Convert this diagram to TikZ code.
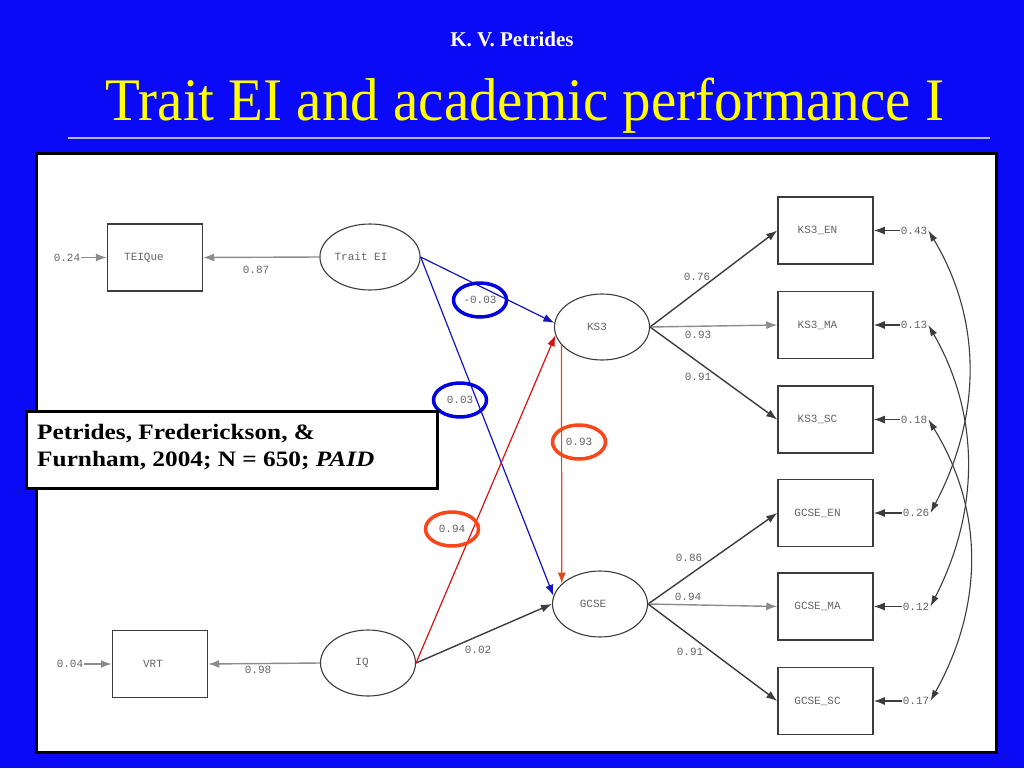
\documentclass[tikz,border=0pt]{standalone}
\usepackage{fontspec}
\setmainfont{Liberation Serif}
\setmonofont{Liberation Mono}
\usetikzlibrary{arrows.meta,shapes.geometric}
\definecolor{slideblue}{RGB}{10,10,246}
\definecolor{semgray}{RGB}{60,60,60}
\definecolor{lightpath}{RGB}{140,140,140}
\definecolor{lblgray}{RGB}{100,100,100}
\definecolor{pathblue}{RGB}{20,20,190}
\definecolor{pathred}{RGB}{215,20,20}
\definecolor{pathorange}{RGB}{225,75,35}
\definecolor{hlblue}{RGB}{0,0,225}
\definecolor{hlred}{RGB}{250,70,25}
\definecolor{titleyellow}{RGB}{255,255,0}
\begin{document}
\begin{tikzpicture}[x=1pt,y=-1pt,
  semfont/.style={font=\ttfamily\fontsize{11}{13}\selectfont},
  obsbox/.style={draw=semgray, line width=1.5pt, fill=white, minimum width=95pt, minimum height=67pt, inner sep=0pt, semfont, text=lblgray},
  latent/.style={ellipse, draw=semgray, line width=1.1pt, minimum width=95pt, minimum height=66pt, inner sep=0pt, semfont, text=lblgray},
  num/.style={semfont, text=lblgray, inner sep=1pt},
  semarrow/.style={-{Latex[length=11pt,width=8pt]}, draw=semgray, line width=1.4pt},
  bothways/.style={{Latex[length=11pt,width=7pt]}-{Latex[length=11pt,width=7pt]}, draw=semgray, line width=1.1pt},
  hlellipse/.style={ellipse, line width=3.5pt, minimum width=53pt, minimum height=34pt, inner sep=0pt, semfont, text=lblgray}
]
\fill[slideblue] (0,0) rectangle (1024,768);
\useasboundingbox (0,0) rectangle (1024,768);

% header
\node[text=white, font=\bfseries\fontsize{21}{25}\selectfont, anchor=base, inner sep=0pt] (author) at (512,46) {K. V. Petrides};
\node[text=titleyellow, font=\fontsize{57}{66}\selectfont, anchor=base, inner sep=0pt, yscale=1.06, transform shape] (title) at (525,120) {Trait EI and academic performance I};
\draw[draw=white!70!slideblue, line width=1.3pt] (68,138) -- (990,138);

% white panel
\draw[fill=white, draw=black, line width=3pt] (36,153) rectangle (996,752);

% observed and latent variables
\node[obsbox] (teique) at (155,257.5) {TEIQue\hspace*{22pt}};
\node[latent] (traitei) at (370,257) {Trait EI\hspace*{18pt}};
\node[latent] (ks3) at (602,327) {KS3\hspace*{10pt}};
\node[latent] (gcse) at (600,604) {GCSE\hspace*{14pt}};
\node[latent] (iq) at (368,663) {IQ\hspace*{12pt}};
\node[obsbox] (vrt) at (160,664) {VRT\hspace*{14pt}};

\node[obsbox] (ks3en) at (825.5,230.5) {KS3\_EN\hspace*{16pt}};
\node[obsbox] (ks3ma) at (825.5,325) {KS3\_MA\hspace*{16pt}};
\node[obsbox] (ks3sc) at (825.5,419.5) {KS3\_SC\hspace*{16pt}};
\node[obsbox] (gcseen) at (825.5,513) {GCSE\_EN\hspace*{16pt}};
\node[obsbox] (gcsema) at (825.5,606.5) {GCSE\_MA\hspace*{16pt}};
\node[obsbox] (gcsesc) at (825.5,701) {GCSE\_SC\hspace*{16pt}};

% error terms
\node[num] (eteique) at (67,257.5) {0.24};
\node[num] (evrt) at (70,664) {0.04};
\node[num] (e1) at (914,230.5) {0.43};
\node[num] (e2) at (914,325) {0.13};
\node[num] (e3) at (914,419.5) {0.18};
\node[num] (e4) at (916,513) {0.26};
\node[num] (e5) at (916,606.5) {0.12};
\node[num] (e6) at (916,701) {0.17};

\draw[semarrow, draw=lightpath] (eteique.east) -- (teique.west);
\draw[semarrow, draw=lightpath] (evrt.east) -- (vrt.west);
\draw[semarrow] (e1.west) -- (ks3en.east);
\draw[semarrow] (e2.west) -- (ks3ma.east);
\draw[semarrow] (e3.west) -- (ks3sc.east);
\draw[semarrow] (e4.west) -- (gcseen.east);
\draw[semarrow] (e5.west) -- (gcsema.east);
\draw[semarrow] (e6.west) -- (gcsesc.east);

% measurement paths
\draw[semarrow, draw=lightpath] (traitei.west) -- (teique.east);
\node[num] (l087) at (256,270) {0.87};
\draw[semarrow, draw=lightpath] (iq.west) -- (vrt.east);
\node[num] (l098) at (258,670) {0.98};

\draw[semarrow] (ks3.east) -- (ks3en.west);
\draw[semarrow, draw=lightpath] (ks3.east) -- (ks3ma.west);
\draw[semarrow] (ks3.east) -- (ks3sc.west);
\node[num] (l076) at (697,277) {0.76};
\node[num] (l093a) at (698,335) {0.93};
\node[num] (l091a) at (698,377) {0.91};

\draw[semarrow] (gcse.east) -- (gcseen.west);
\draw[semarrow, draw=lightpath] (gcse.east) -- (gcsema.west);
\draw[semarrow] (gcse.east) -- (gcsesc.west);
\node[num] (l086) at (689,558) {0.86};
\node[num] (l094a) at (688,597) {0.94};
\node[num] (l091b) at (690,652) {0.91};

% structural paths
\draw[semarrow] (iq.east) -- (gcse.west);
\node[num] (l002) at (478,650) {0.02};
\draw[semarrow, line width=1.2pt, draw=pathblue] (traitei.east) -- (ks3.175);
\draw[semarrow, line width=1.2pt, draw=pathblue] (traitei.east) -- (gcse.170);
\draw[semarrow, line width=1.2pt, draw=pathred] (iq.east) -- (ks3.190);
\draw[semarrow, line width=1.2pt, draw=pathorange] (ks3.204) -- (gcse.152);

% highlighted coefficients
\node[hlellipse, draw=hlblue] (hm003) at (480,300) {-0.03};
\node[hlellipse, draw=hlblue] (h003) at (460,400) {0.03};
\node[hlellipse, draw=hlred] (h093) at (579,442) {0.93};
\node[hlellipse, draw=hlred] (h094) at (452,529) {0.94};

% correlated errors
\draw[bothways] (e1.east) .. controls (982,320) and (982,415) .. (e4.east);
\draw[bothways] (e2.east) .. controls (980,415) and (980,510) .. (e5.east);
\draw[bothways] (e3.east) .. controls (984,510) and (984,605) .. (e6.east);

% citation
\node[draw=black, line width=3pt, fill=white, anchor=north west, minimum width=411pt, minimum height=77pt, inner sep=0pt] (cite) at (25,410) {};
\node[anchor=base west, align=left, inner sep=0pt, font=\bfseries\fontsize{22}{27}\selectfont, xscale=1.15, transform shape] (citetext) at (37,466) {Petrides, Frederickson, \&\\Furnham, 2004; N = 650; \textit{PAID}};
\end{tikzpicture}
\end{document}
